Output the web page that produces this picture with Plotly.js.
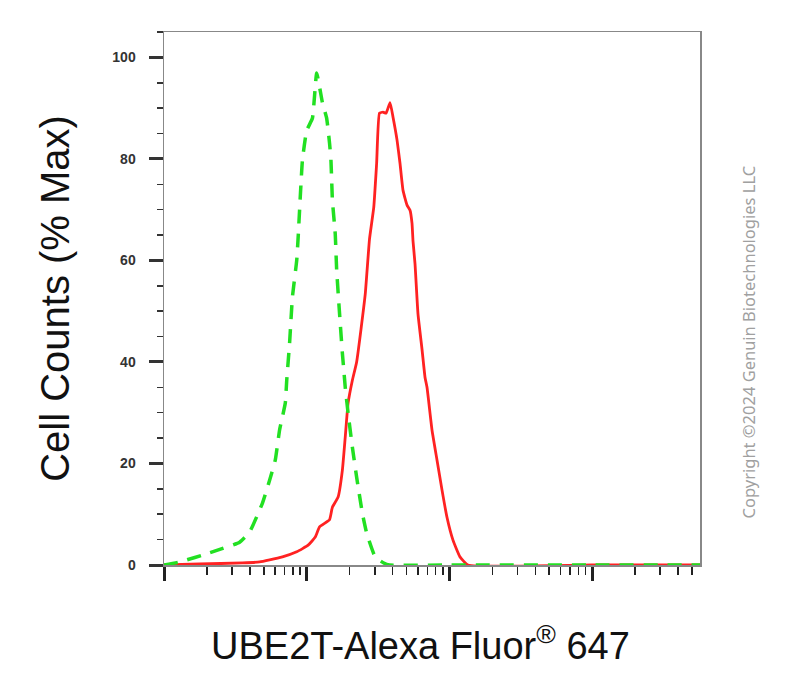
<!DOCTYPE html>
<html>
<head>
<meta charset="utf-8">
<script src="https://cdn.plot.ly/plotly-3.0.1.min.js"></script>
<style>html,body{margin:0;padding:0;background:#fff;}#chart{width:787px;height:690px;}</style>
</head>
<body>
<div id="chart"></div>
<script>
// Isotype / control (green dashed): log10 intensity and % max
const controlLogX = [1.0, 1.11, 1.32, 1.53, 1.60, 1.69, 1.74, 1.78, 1.81, 1.85, 1.86, 1.88, 1.90, 1.93, 1.94, 1.97, 2.00, 2.04, 2.07, 2.11, 2.14, 2.16, 2.17, 2.18, 2.20, 2.21, 2.23, 2.25, 2.26, 2.27, 2.29, 2.32, 2.35, 2.39, 2.42, 2.48, 2.54, 2.58, 3.0, 4.0, 4.76];
const controlY    = [0,   0.6,  2.4,  4.5,  6.5,  12.2, 16.7, 20.7, 26.6, 31.9, 36.4, 43.7, 52.8, 60.0, 64.5, 79.7, 85.6, 88.0, 96.9, 91.1, 88.0, 83.1, 79.7, 71.9, 65.2, 58.1, 49.6, 41.7, 38.4, 35.0, 29.9, 23.2, 17.3, 10.2, 6.3,  1.6,  0.4,  0,    0,   0,   0];
// UBE2T stained sample (red solid)
const sampleLogX = [1.0, 1.25, 1.55, 1.67, 1.74, 1.83, 1.93, 2.01, 2.06, 2.09, 2.16, 2.18, 2.22, 2.25, 2.27, 2.29, 2.32, 2.35, 2.41, 2.44, 2.47, 2.49, 2.51, 2.535, 2.556, 2.584, 2.605, 2.633, 2.654, 2.675, 2.703, 2.724, 2.738, 2.745, 2.759, 2.78, 2.808, 2.829, 2.843, 2.878, 2.913, 2.948, 2.983, 3.025, 3.074, 3.13, 4.0, 4.76];
const sampleY    = [0,   0.2,  0.4,  0.6,  1.0,  1.6,  2.6,  3.9,  5.5,  7.5,  8.9,  11.4, 13.4, 18.7, 25.2, 31.9, 36.4, 40.0, 53.3, 64.2, 70.5, 79.1, 89.0, 89.2,  89.0,  91.1,  88.2,  83.7,  79.1,  73.8,  70.9,  69.9,  67.3,  63.8,  59.3,  49.4, 42.5,  37.0,  35.0,  26.6,  20.7,  14.8,  9.4,   4.9,   1.6,   0,    0,   0];

const yTickVals = [0, 20, 40, 60, 80, 100];
const yTickText = ["0", "20", "40", "60", "80", "100"];
const xTitle = "UBE2T-Alexa Fluor<sup>®</sup> 647";
const yTitle = "Cell Counts (% Max)";
const copyright = "Copyright ©2024 Genuin Biotechnologies LLC";

const pow10 = a => a.map(v => Math.pow(10, v));

const traces = [
  {x: pow10(sampleLogX), y: sampleY, mode: 'lines', type: 'scatter',
   line: {color: '#ff2222', width: 2.8, shape: 'spline', smoothing: 0.4}, hoverinfo: 'skip', showlegend: false},
  {x: pow10(controlLogX), y: controlY, mode: 'lines', type: 'scatter',
   line: {color: '#22e022', width: 3.5, dash: '14px,10px', shape: 'spline', smoothing: 0.4}, hoverinfo: 'skip', showlegend: false}
];

const layout = {
  width: 787, height: 690,
  margin: {l: 164, r: 87, t: 32, b: 125},
  paper_bgcolor: '#ffffff', plot_bgcolor: '#ffffff',
  showlegend: false,
  xaxis: {
    type: 'log', range: [1, 4.756], showgrid: false, zeroline: false,
    showline: true, linecolor: '#888', linewidth: 1.5, mirror: true,
    ticks: 'outside', ticklen: 14, tickwidth: 3, tickcolor: '#222', dtick: 1,
    showticklabels: false,
    minor: {ticks: 'outside', ticklen: 8, tickwidth: 1.5, tickcolor: '#222', dtick: 'D1', showgrid: false}
  },
  yaxis: {
    range: [0, 105], showgrid: false, zeroline: false,
    showline: true, linecolor: '#888', linewidth: 1.5, mirror: true,
    ticks: 'outside', ticklen: 14, tickwidth: 3, tickcolor: '#333',
    tickvals: yTickVals, ticktext: yTickText, ticklabelstandoff: 10,
    tickfont: {family: 'Liberation Sans, Arial, sans-serif', size: 14, color: '#333', weight: 'bold'},
    minor: {ticks: 'outside', ticklen: 6, tickwidth: 1.5, tickcolor: '#333', dtick: 5, showgrid: false},
    title: {text: yTitle, font: {family: 'Liberation Sans, Arial, sans-serif', size: 40, color: '#111'}, standoff: 30}
  },
  annotations: [{
    text: xTitle, xref: 'paper', yref: 'paper', x: 0.478, y: -0.146,
    showarrow: false, xanchor: 'center', yanchor: 'middle',
    font: {family: 'Liberation Sans, Arial, sans-serif', size: 38, color: '#111'}
  }, {
    text: copyright, xref: 'paper', yref: 'paper', x: 1.09, y: 0.418, textangle: -90,
    showarrow: false, xanchor: 'center', yanchor: 'middle',
    font: {family: 'Noto Sans, Open Sans, sans-serif', size: 16.5, color: '#a0a0a0'}
  }]
};

Plotly.newPlot('chart', traces, layout, {staticPlot: true, displayModeBar: false});
</script>
</body>
</html>
